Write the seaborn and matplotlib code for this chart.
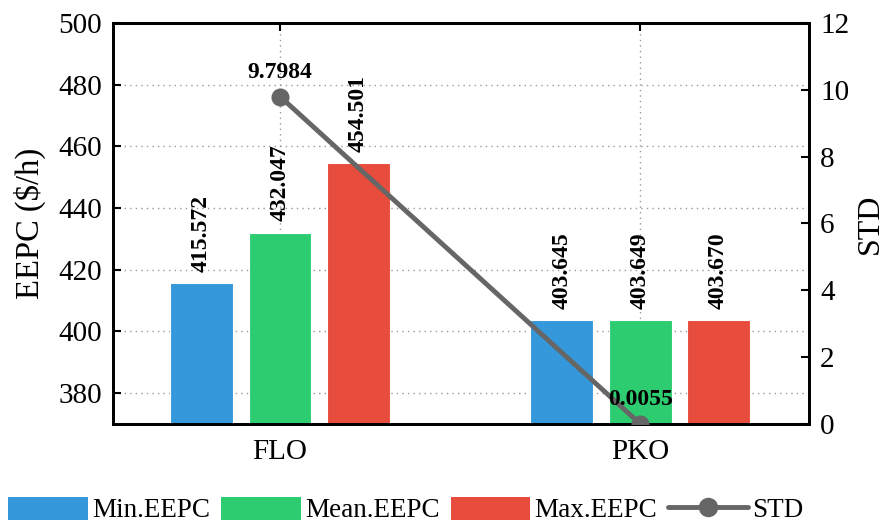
import matplotlib
matplotlib.use("Agg")
import matplotlib.pyplot as plt
import seaborn as sns
import pandas as pd
import numpy as np
from matplotlib.patches import Patch
from matplotlib.lines import Line2D

categories = ["FLO", "PKO"]
series_names = ["Min.EEPC", "Mean.EEPC", "Max.EEPC"]
min_eepc = [415.572, 403.645]
mean_eepc = [432.047, 403.649]
max_eepc = [454.501, 403.670]
std_vals = [9.7984, 0.0055]
std_labels = ["9.7984", "0.0055"]
colors = ["#3498db", "#2ecc71", "#e74c3c"]

sns.set_theme(style="white")
plt.rcParams["font.family"] = ["Liberation Serif", "DejaVu Serif"]
plt.rcParams["mathtext.fontset"] = "stix"
for k in ["text.color", "axes.labelcolor", "xtick.color", "ytick.color"]:
    plt.rcParams[k] = "black"

rows = []
for name, vals in zip(series_names, [min_eepc, mean_eepc, max_eepc]):
    for c, v in zip(categories, vals):
        rows.append({"cat": c, "series": name, "val": v})
df = pd.DataFrame(rows)

fig = plt.figure(figsize=(8.88, 5.22), dpi=100)
ax = fig.add_axes([113/888, 1-424/522, (809-113)/888, (424-23)/522])

sns.barplot(data=df, x="cat", y="val", hue="series", palette=colors, ax=ax,
            width=0.654, gap=0.2, edgecolor="white", linewidth=0.8,
            saturation=1, legend=False, zorder=2)
ax.set_xlim(-0.464, 1.469)
ax.set_ylim(370, 500)
ax.set_yticks(np.arange(380, 501, 20))
ax.set_xlabel("")
ax.set_ylabel("EEPC ($/h)", fontsize=23.5, labelpad=9)
ax.grid(True, linestyle=(0, (1, 3)), color="#999999", linewidth=1.0, zorder=0)
ax.set_axisbelow(True)
ax.tick_params(axis="both", direction="in", labelsize=21, length=6, width=1.5,
               top=True, pad=8)
ax.tick_params(axis="x", pad=11)
for s in ax.spines.values():
    s.set_linewidth(2)
    s.set_color("black")

for cont in ax.containers:
    for rect in cont:
        h = rect.get_height()
        ax.annotate(f"{h:.3f}", (rect.get_x() + rect.get_width()/2, h),
                    xytext=(0, 8), textcoords="offset points",
                    rotation=90, ha="center", va="bottom",
                    fontsize=17, fontweight="bold", zorder=5)

ax2 = ax.twinx()
sns.lineplot(x=[0, 1], y=std_vals, ax=ax2, color="#666666", linewidth=3.5,
             marker="o", markersize=13, markeredgewidth=0, zorder=4)
ax2.set_ylim(0, 12)
ax2.set_yticks(np.arange(0, 13, 2))
ax2.set_ylabel("STD", fontsize=23, labelpad=5)
ax2.tick_params(axis="y", direction="in", labelsize=21, length=6, width=1.5, pad=8)
for s in ax2.spines.values():
    s.set_linewidth(2)
    s.set_color("black")
for xi, (v, lab) in enumerate(zip(std_vals, std_labels)):
    ax2.annotate(lab, (xi, v), xytext=(0, 10), textcoords="offset points",
                 ha="center", va="bottom", fontsize=17, fontweight="bold", zorder=6,
                 annotation_clip=False)

handles = [Patch(facecolor=c, edgecolor="none") for c in colors]
handles.append(Line2D([0], [0], color="#666666", linewidth=3.5, marker="o",
                      markersize=13))
fig.legend(handles, series_names + ["STD"], loc="center",
           bbox_to_anchor=(0.457, 12/522), ncol=4, frameon=False, fontsize=19.5,
           handlelength=2.95, handleheight=0.95, handletextpad=0.15,
           columnspacing=0.4, borderpad=0, borderaxespad=0)

fig.savefig("out.png", dpi=100)
